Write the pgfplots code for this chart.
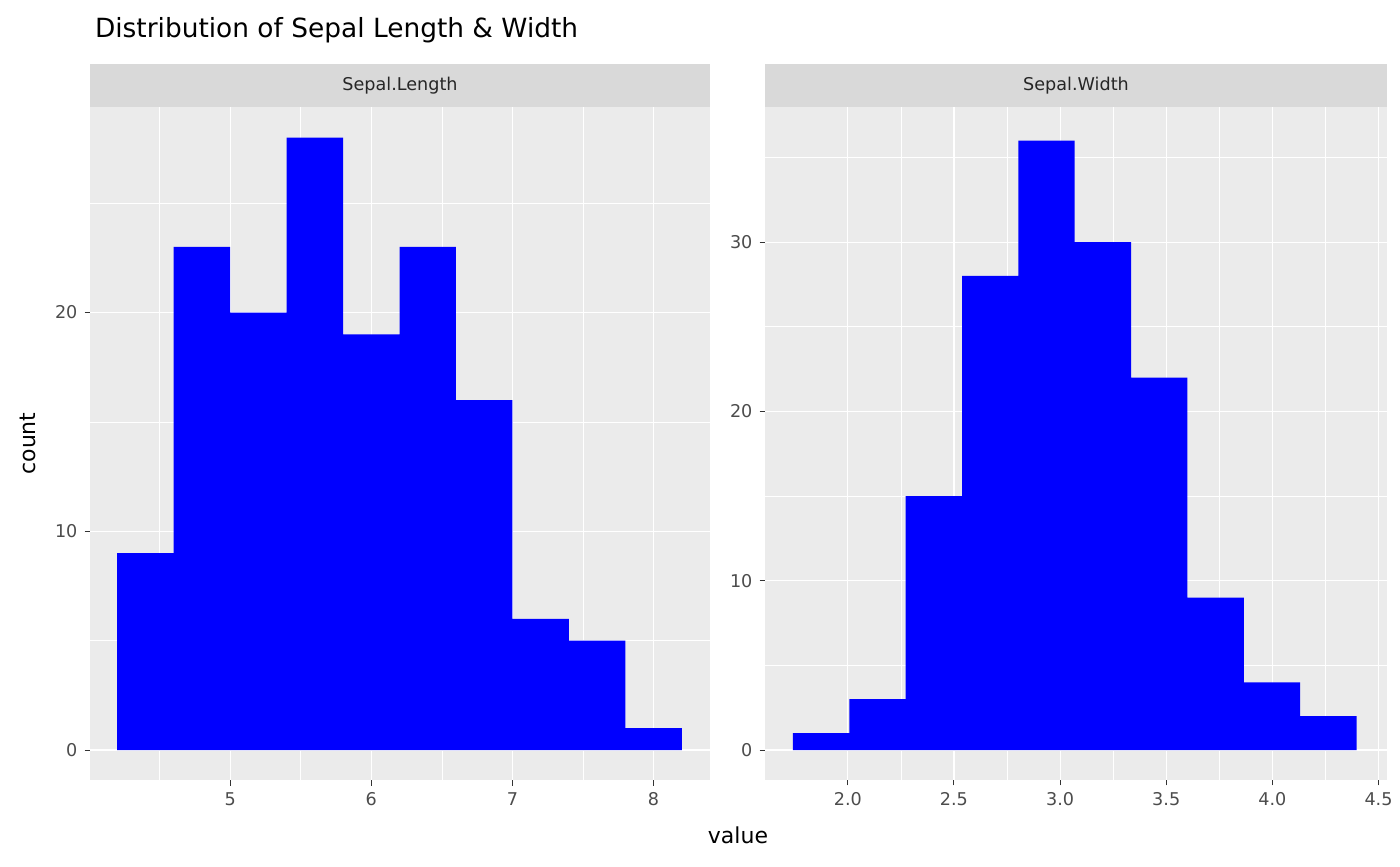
\documentclass[border=0pt]{standalone}
\usepackage{pgfplots}
\pgfplotsset{compat=1.18}
\usepackage{fontspec}
\setmainfont{DejaVu Sans}
\definecolor{panel}{HTML}{EBEBEB}
\definecolor{strip}{HTML}{D9D9D9}
\begin{document}
\begin{tikzpicture}
\path[use as bounding box] (0,0) rectangle (700pt,433pt);
\pgfplotsset{gg/.style={
  scale only axis, height=336.5pt,
  axis background/.style={fill=panel},
  axis line style={draw=none},
  grid=both,
  major grid style={white,line width=0.55pt},
  minor grid style={white,line width=0.3pt},
  tick align=outside, xtick pos=bottom, ytick pos=left,
  major tick length=2.75pt, minor tick length=0pt,
  tick style={black!80,line width=0.5pt},
  ticklabel style={font=\fontsize{8.8}{10}\selectfont, text=black!70},
  /pgf/number format/assume math mode=true,
  clip=true}}
% left panel
\begin{axis}[gg, at={(45pt,43pt)}, anchor=south west, width=310pt,
  xmin=4.007, xmax=8.40, ymin=-1.37, ymax=29.4,
  xtick={5,6,7,8}, minor xtick={4.5,5.5,6.5,7.5},
  ytick={0,10,20}, minor ytick={5,15,25}]
\addplot[ybar interval, fill=blue, draw=none] coordinates {
(4.2,9)(4.6,23)(5.0,20)(5.4,28)(5.8,19)(6.2,23)(6.6,16)(7.0,6)(7.4,5)(7.8,1)(8.2,1)};
\end{axis}
% right panel
\begin{axis}[gg, at={(382.5pt,43pt)}, anchor=south west, width=311pt,
  xmin=1.61, xmax=4.54, ymin=-1.77, ymax=37.98,
  xtick={2.0,2.5,3.0,3.5,4.0,4.5}, minor xtick={2.25,2.75,3.25,3.75,4.25},
  xticklabel style={/pgf/number format/.cd,fixed,fixed zerofill,precision=1},
  ytick={0,10,20,30}, minor ytick={5,15,25,35}]
\addplot[ybar interval, fill=blue, draw=none] coordinates {
(1.741,1)(2.007,3)(2.272,15)(2.538,28)(2.803,36)(3.069,30)(3.335,22)(3.600,9)(3.866,4)(4.131,2)(4.397,2)};
\end{axis}
% strips
\fill[strip] (45pt,379.5pt) rectangle (355pt,401pt);
\fill[strip] (382.5pt,379.5pt) rectangle (693.5pt,401pt);
\node[font=\fontsize{8.8}{10}\selectfont, text=black!85] at (200pt,390.25pt) {Sepal.Length};
\node[font=\fontsize{8.8}{10}\selectfont, text=black!85] at (538pt,390.25pt) {Sepal.Width};
% titles
\node[anchor=base west, font=\fontsize{13.2}{15}\selectfont] at (44pt,414pt) {Distribution of Sepal Length \& Width};
\node[rotate=90, font=\fontsize{11}{13}\selectfont] at (14pt,211.25pt) {count};
\node[font=\fontsize{11}{13}\selectfont] at (369pt,15.5pt) {value};
\end{tikzpicture}
\end{document}
